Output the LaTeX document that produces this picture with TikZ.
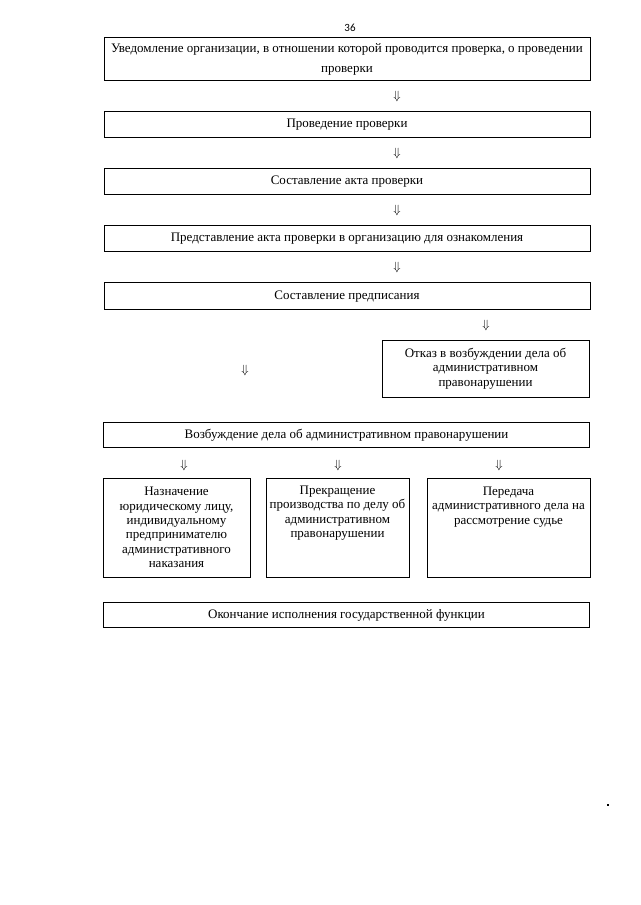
\documentclass[tikz,border=0pt]{standalone}
\usepackage{fontspec}
\setmainfont{Liberation Serif}
\newfontfamily\numfont{Carlito}
\begin{document}
\begin{tikzpicture}[x=1pt,y=-1pt,
  box/.style={draw, line width=0.8pt, inner sep=0pt, align=center,
    font=\fontsize{13}{14.4}\selectfont},
  one/.style={text height=9pt, text depth=1.5pt},
  arr/.style={inner sep=0pt, font=\fontsize{13}{13}\selectfont},
  lbl/.style={inner sep=0pt, font=\numfont\fontsize{11}{11}\selectfont}]
\useasboundingbox (0,0) rectangle (640,905);
\node[lbl] (pg) at (350,28) {36};
% main column
\node[box, font=\fontsize{13}{20}\selectfont, minimum width=486pt, minimum height=43pt] (b1) at (347,59)
  {Уведомление организации, в отношении которой проводится проверка, о проведении\\проверки};
\node[box, one, minimum width=486pt, minimum height=26pt] (b2) at (347,124) {Проведение проверки};
\node[box, one, minimum width=486pt, minimum height=26pt] (b3) at (347,181) {Составление акта проверки};
\node[box, one, minimum width=486pt, minimum height=26pt] (b4) at (347,238)
  {Представление акта проверки в организацию для ознакомления};
\node[box, one, minimum width=486pt, minimum height=27pt] (b5) at (347,295.5) {Составление предписания};
\node[arr] (a1) at (397,96) {$\Downarrow$};
\node[arr] (a2) at (397,153) {$\Downarrow$};
\node[arr] (a3) at (397,210) {$\Downarrow$};
\node[arr] (a4) at (397,267) {$\Downarrow$};
% branch
\node[arr] (a5) at (486,325) {$\Downarrow$};
\node[arr] (a6) at (245,370) {$\Downarrow$};
\node[box, minimum width=207pt, minimum height=57pt] (otk) at (485.5,368.5)
  {Отказ в возбуждении дела об\\административном\\правонарушении};
\node[box, one, minimum width=486pt, minimum height=25pt] (vozb) at (346.5,434.5)
  {Возбуждение дела об административном правонарушении};
\node[arr] (a7) at (184,465) {$\Downarrow$};
\node[arr] (a8) at (338,465) {$\Downarrow$};
\node[arr] (a9) at (499,465) {$\Downarrow$};
\node[box, minimum width=147pt, minimum height=99pt] (na) at (176.5,527.5)
  {Назначение\\юридическому лицу,\\индивидуальному\\предпринимателю\\административного\\наказания};
\node[box, minimum width=143pt, minimum height=99pt] (pr) at (337.5,527.5)
  {\parbox[c][83pt][t]{141pt}{\centering Прекращение\\производства по делу об\\административном\\правонарушении}};
\node[box, minimum width=163pt, minimum height=99pt] (pe) at (508.5,527.5)
  {\parbox[c][81pt][t]{161pt}{\centering Передача\\административного дела на\\рассмотрение судье}};
\node[box, one, minimum width=486pt, minimum height=25pt] (fin) at (346.5,614.5)
  {Окончание исполнения государственной функции};
\fill (606.5,804) rectangle (608.5,806);
\end{tikzpicture}
\end{document}
